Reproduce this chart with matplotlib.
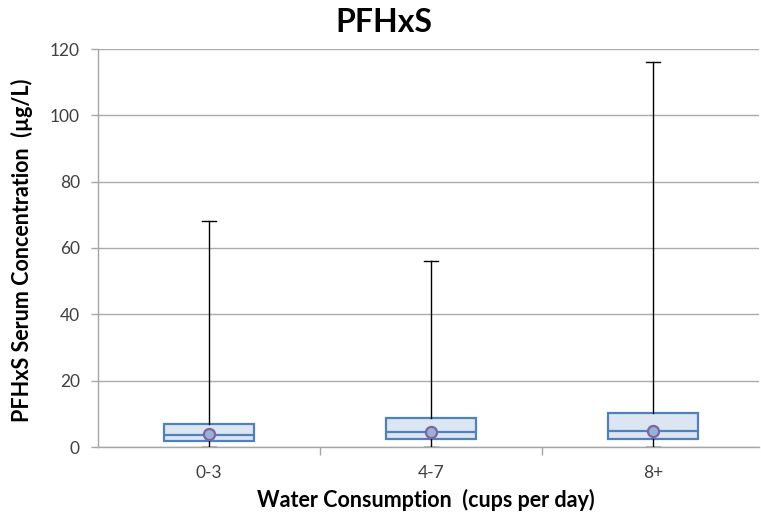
import matplotlib
matplotlib.use("Agg")
import matplotlib.pyplot as plt

plt.rcParams['font.family'] = ['Lato', 'DejaVu Sans']

# PFHxS serum concentration (ug/L) by water consumption group
groups = ['0-3', '4-7', '8+']
minimum = [0.1, 0.1, 0.1]
q1 = [1.7, 2.4, 2.3]
median = [3.7, 4.6, 4.7]
q3 = [6.9, 8.6, 10.2]
maximum = [68, 56, 116]
mean = [3.9, 4.5, 4.9]

y_ticks = [0, 20, 40, 60, 80, 100, 120]

stats = []
for i, g in enumerate(groups):
    stats.append({'label': g, 'whislo': minimum[i], 'q1': q1[i], 'med': median[i],
                  'q3': q3[i], 'whishi': maximum[i], 'mean': mean[i]})

fig = plt.figure(figsize=(7.61, 5.16), dpi=100)
ax = fig.add_axes([98 / 761, 1 - 447 / 516, 661 / 761, 398 / 516])

positions = list(range(len(groups)))
ax.bxp(stats, positions=positions, widths=0.405, capwidths=0.06,
       patch_artist=True, showmeans=True, showfliers=False,
       boxprops=dict(facecolor='#DCE6F2', edgecolor='#4F81BD', linewidth=1.6),
       medianprops=dict(color='#4F81BD', linewidth=1.6),
       whiskerprops=dict(color='black', linewidth=1.0),
       capprops=dict(color='black', linewidth=1.0),
       meanprops=dict(marker='o', markerfacecolor='#95B3D7', markeredgecolor='#8064A2',
                      markeredgewidth=1.6, markersize=8),
       zorder=3)

ax.set_xlim(-0.5, -0.5 + 661 / 222)
ax.set_ylim(0, 120)
ax.set_yticks(y_ticks)
ax.yaxis.grid(True, color='#ABABAB', linewidth=1.0, zorder=0)
ax.set_axisbelow(True)

# category labels centred, tick marks on the category boundaries
ax.set_xticks(positions)
ax.set_xticklabels(groups)
ax.set_xticks([0.5, 1.5], minor=True)
ax.tick_params(axis='x', which='major', length=0, pad=13, labelsize=12.5, labelcolor='#404040')
ax.tick_params(axis='x', which='minor', length=6, color='#A6A6A6', width=1.0)
ax.tick_params(axis='y', length=5, color='#A6A6A6', width=1.0, labelsize=12.5,
               labelcolor='#404040', pad=8)

for side in ['top', 'right']:
    ax.spines[side].set_visible(False)
for side in ['left', 'bottom']:
    ax.spines[side].set_color('#A6A6A6')
    ax.spines[side].set_linewidth(1.0)

fig.text(384 / 761, 1 - 22 / 516, 'PFHxS', ha='center', va='center', fontsize=23, fontweight='bold')
fig.text(426 / 761, 1 - 500 / 516, 'Water Consumption  (cups per day)', ha='center', va='center',
         fontsize=15.5, fontweight='bold')
fig.text(22 / 761, 1 - 250 / 516, 'PFHxS Serum Concentration  (\u00b5g/L)', ha='center', va='center',
         rotation=90, fontsize=15.5, fontweight='bold')

fig.savefig('out.png', dpi=100, facecolor='white')
